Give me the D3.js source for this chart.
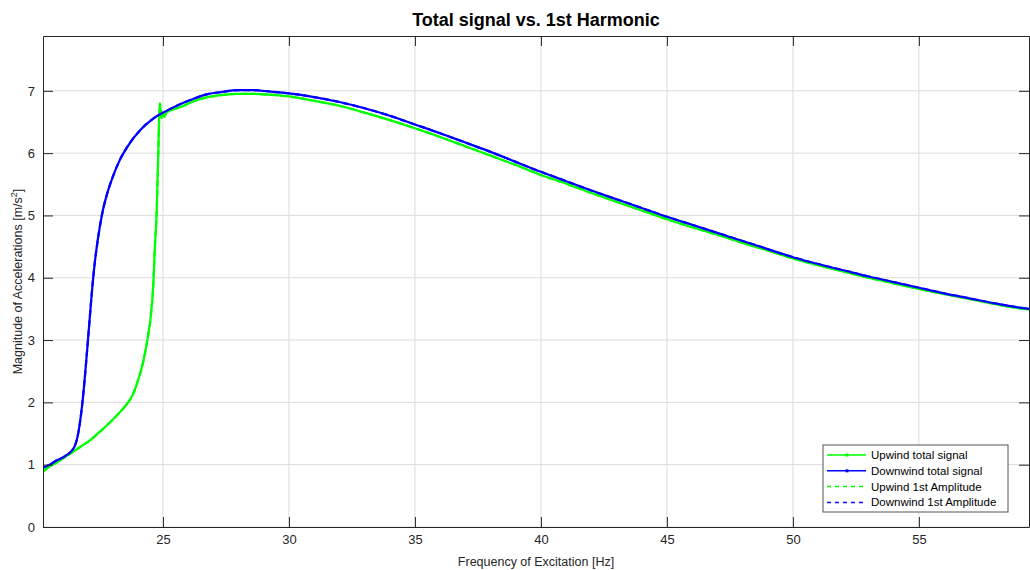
<!DOCTYPE html>
<html>
<head>
<meta charset="utf-8">
<script src="https://cdn.jsdelivr.net/npm/d3@7"></script>
<style>
	body { margin: 0; background: #ffffff; }
	svg { font-family: "Liberation Sans", Arial, Helvetica, sans-serif; }
</style>
</head>
<body>
<div id="app"></div>
<script>
// frequency [Hz] / magnitude [m/s^2]
const upwindFreq = [20.24, 20.5, 20.8, 21.1, 21.4, 21.7, 22.1, 22.5, 22.8, 23.1, 23.4, 23.6, 23.8, 24.0, 24.2, 24.38, 24.53, 24.62, 24.68, 24.75, 24.81, 24.88, 24.94, 25.0, 25.06, 25.15, 25.4, 25.7, 26.2, 26.7, 27.3, 28.0, 28.6, 29.2, 30, 31, 32, 33, 34, 35, 36, 37, 38, 39, 40, 41, 42, 43, 44, 45, 46, 47, 48, 49, 50, 51, 52, 53, 54, 55, 56, 57, 58, 59, 59.37];
const upwindTotal = [0.89, 0.97, 1.04, 1.12, 1.20, 1.28, 1.39, 1.53, 1.64, 1.76, 1.89, 1.99, 2.12, 2.34, 2.62, 3.00, 3.43, 3.91, 4.50, 5.04, 5.92, 6.80, 6.56, 6.64, 6.58, 6.66, 6.70, 6.74, 6.83, 6.89, 6.93, 6.95, 6.95, 6.94, 6.91, 6.84, 6.76, 6.65, 6.53, 6.40, 6.26, 6.11, 5.96, 5.81, 5.65, 5.51, 5.36, 5.22, 5.08, 4.94, 4.81, 4.69, 4.56, 4.44, 4.31, 4.20, 4.10, 4.00, 3.91, 3.82, 3.74, 3.66, 3.58, 3.51, 3.49];

const downwindFreq = [20.24, 20.5, 20.8, 21.05, 21.2, 21.3, 21.4, 21.5, 21.6, 21.7, 21.8, 21.9, 22.0, 22.1, 22.2, 22.3, 22.4, 22.5, 22.6, 22.8, 23.0, 23.3, 23.6, 24.1, 24.6, 25.2, 25.7, 26.2, 26.7, 27.3, 28.0, 28.6, 29.2, 30, 31, 32, 33, 34, 35, 36, 37, 38, 39, 40, 41, 42, 43, 44, 45, 46, 47, 48, 49, 50, 51, 52, 53, 54, 55, 56, 57, 58, 59, 59.37];
const downwindTotal = [0.95, 1.00, 1.07, 1.12, 1.16, 1.19, 1.23, 1.30, 1.43, 1.66, 1.98, 2.40, 2.88, 3.38, 3.86, 4.26, 4.57, 4.83, 5.05, 5.37, 5.61, 5.90, 6.11, 6.37, 6.55, 6.69, 6.79, 6.87, 6.94, 6.98, 7.01, 7.01, 6.99, 6.96, 6.90, 6.82, 6.72, 6.60, 6.46, 6.32, 6.17, 6.02, 5.86, 5.70, 5.55, 5.40, 5.26, 5.12, 4.98, 4.85, 4.72, 4.59, 4.46, 4.33, 4.22, 4.12, 4.02, 3.93, 3.84, 3.75, 3.67, 3.59, 3.52, 3.50];

// 1st harmonic amplitudes sit under the total signal in the figure
const upwind1st = upwindTotal;
const downwind1st = downwindTotal;

const xTicks = [25, 30, 35, 40, 45, 50, 55];
const yTicks = [0, 1, 2, 3, 4, 5, 6, 7];
const xDomain = [20.24, 59.37];
const yDomain = [0, 7.88];

const legendNames = ["Upwind total signal", "Downwind total signal", "Upwind 1st Amplitude", "Downwind 1st Amplitude"];

const W = 1030, H = 570;
const margin = { left: 43, right: 1, top: 36, bottom: 43 };
const axisColor = "#262626";

const svg = d3.select("#app").append("svg")
	.attr("width", W)
	.attr("height", H);

let x = d3.scaleLinear().domain(xDomain).range([margin.left, W - margin.right]);
let y = d3.scaleLinear().domain(yDomain).range([H - margin.bottom, margin.top]);

// grid
svg.append("g")
	.selectAll("line")
	.data(xTicks)
	.enter()
	.append("line")
		.attr("x1", d => x(d)).attr("x2", d => x(d))
		.attr("y1", y(yDomain[1])).attr("y2", y(0))
		.attr("stroke", "#dcdcdc")
		.attr("stroke-width", 1);

svg.append("g")
	.selectAll("line")
	.data(yTicks)
	.enter()
	.append("line")
		.attr("x1", x(xDomain[0])).attr("x2", x(xDomain[1]))
		.attr("y1", d => y(d)).attr("y2", d => y(d))
		.attr("stroke", "#dcdcdc")
		.attr("stroke-width", 1);

// series
svg.append("clipPath").attr("id", "plotClip")
	.append("rect")
	.attr("x", x(xDomain[0])).attr("y", y(yDomain[1]))
	.attr("width", x(xDomain[1]) - x(xDomain[0]))
	.attr("height", y(0) - y(yDomain[1]));

const series = [
	{ xs: upwindFreq, ys: upwind1st, color: "#00ff00", dash: "6,4" },
	{ xs: downwindFreq, ys: downwind1st, color: "#0000ff", dash: "6,4" },
	{ xs: upwindFreq, ys: upwindTotal, color: "#00ff00", dash: null },
	{ xs: downwindFreq, ys: downwindTotal, color: "#0000ff", dash: null }
];

let line = d3.line()
	.x(d => x(d[0]))
	.y(d => y(d[1]))
	.curve(d3.curveMonotoneX);

let plot = svg.append("g").attr("clip-path", "url(#plotClip)");
series.forEach(s => {
	plot.append("path")
		.datum(s.xs.map((f, i) => [f, s.ys[i]]))
		.attr("fill", "none")
		.attr("stroke", s.color)
		.attr("stroke-width", 2.2)
		.attr("stroke-dasharray", s.dash)
		.attr("d", line);
});

// axes, MATLAB style box with inward ticks
let axBottom = svg.append("g")
	.attr("transform", "translate(0," + y(0) + ")")
	.call(d3.axisBottom(x).tickValues(xTicks).tickFormat(d3.format("d")).tickSizeInner(-10).tickSizeOuter(0).tickPadding(8));
let axLeft = svg.append("g")
	.attr("transform", "translate(" + x(xDomain[0]) + ",0)")
	.call(d3.axisLeft(y).tickValues(yTicks).tickFormat(d3.format("d")).tickSizeInner(-10).tickSizeOuter(0).tickPadding(8));
let axTop = svg.append("g")
	.attr("transform", "translate(0," + y(yDomain[1]) + ")")
	.call(d3.axisTop(x).tickValues(xTicks).tickFormat("").tickSizeInner(-10).tickSizeOuter(0));
let axRight = svg.append("g")
	.attr("transform", "translate(" + x(xDomain[1]) + ",0)")
	.call(d3.axisRight(y).tickValues(yTicks).tickFormat("").tickSizeInner(-10).tickSizeOuter(0));

[axBottom, axLeft, axTop, axRight].forEach(a => {
	a.selectAll("path").attr("stroke", axisColor);
	a.selectAll("line").attr("stroke", axisColor);
	a.selectAll("text")
		.attr("fill", axisColor)
		.style("font-size", "13px")
		.style("font-family", "'Liberation Sans', Arial, sans-serif");
});

// labels
svg.append("text")
	.attr("x", (x(xDomain[0]) + x(xDomain[1])) / 2)
	.attr("y", 26)
	.attr("text-anchor", "middle")
	.style("font-size", "18px")
	.style("font-weight", "bold")
	.attr("fill", "#000")
	.text("Total signal vs. 1st Harmonic");

svg.append("text")
	.attr("x", (x(xDomain[0]) + x(xDomain[1])) / 2)
	.attr("y", 566)
	.attr("text-anchor", "middle")
	.style("font-size", "12.5px")
	.attr("fill", axisColor)
	.text("Frequency of Excitation [Hz]");

let ylab = svg.append("text")
	.attr("transform", "translate(22," + (y(0) + y(yDomain[1])) / 2 + ") rotate(-90)")
	.attr("text-anchor", "middle")
	.style("font-size", "12.5px")
	.attr("fill", axisColor);
ylab.append("tspan").text("Magnitude of Accelerations [m/s");
ylab.append("tspan").attr("dy", -5).style("font-size", "9px").text("2");
ylab.append("tspan").attr("dy", 5).text("]");

// legend
const lg = { x: 823, y: 445, w: 185, h: 67 };
let legend = svg.append("g");
legend.append("rect")
	.attr("x", lg.x).attr("y", lg.y)
	.attr("width", lg.w).attr("height", lg.h)
	.attr("fill", "#ffffff")
	.attr("stroke", "#555555")
	.attr("stroke-width", 1);

const legendStyle = [
	{ color: "#00ff00", dash: null },
	{ color: "#0000ff", dash: null },
	{ color: "#00ff00", dash: "4,4" },
	{ color: "#0000ff", dash: "4,4" }
];

legendNames.forEach((name, i) => {
	let ly = lg.y + 10 + i * 15.8;
	legend.append("line")
		.attr("x1", lg.x + 4).attr("x2", lg.x + 43)
		.attr("y1", ly).attr("y2", ly)
		.attr("stroke", legendStyle[i].color)
		.attr("stroke-width", 1.5)
		.attr("stroke-dasharray", legendStyle[i].dash);
	if (!legendStyle[i].dash) {
		legend.append("rect")
			.attr("x", lg.x + 22.5).attr("y", ly - 1.5)
			.attr("width", 3).attr("height", 3)
			.attr("fill", legendStyle[i].color);
	}
	legend.append("text")
		.attr("x", lg.x + 48)
		.attr("y", ly + 4)
		.style("font-size", "11.5px")
		.attr("fill", "#000")
		.text(name);
});
</script>
</body>
</html>
